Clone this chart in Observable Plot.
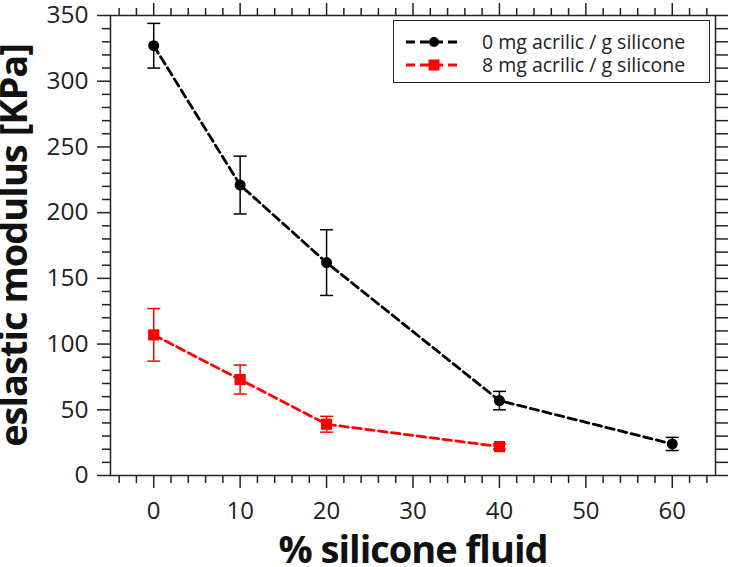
<!DOCTYPE html>
<html><head><meta charset="utf-8">
<script src="https://cdn.jsdelivr.net/npm/d3@7"></script>
<script src="https://cdn.jsdelivr.net/npm/@observablehq/plot@0.6"></script>
<style>
body{margin:0;background:#fff;font-family:"Open Sans",sans-serif;}
#wrap{position:relative;width:731px;height:567px;}
#legend{position:absolute;left:393px;top:20px;width:315px;height:61px;border:1.5px solid #222;background:#fff;box-sizing:content-box;}
.row{position:absolute;left:0;height:22px;line-height:22px;display:flex;align-items:center;font-size:19.5px;color:#222;white-space:nowrap;}
.row svg{margin-left:10px;margin-right:18px;}
</style></head>
<body><div id="wrap"><div id="legend"></div></div>
<script>
const series = ["0 mg acrilic / g silicone", "8 mg acrilic / g silicone"];
const colors = ["#000000", "#ff0000"];
const symbols = ["circle", "square"];
const x0 = [0, 10, 20, 40, 60];
const y0 = [327, 221, 162, 57, 24];
const e0 = [17, 22, 25, 7, 5];
const x8 = [0, 10, 20, 40];
const y8 = [107, 73, 39, 22];
const e8 = [20, 11, 6, 2];
const xMajor = [0, 10, 20, 30, 40, 50, 60];
const yMajor = [0, 50, 100, 150, 200, 250, 300, 350];
const xLabel = "% silicone fluid";
const yLabel = "eslastic modulus [KPa]";

const rows = [
  ...x0.map((x, i) => ({s: series[0], x, y: y0[i], e: e0[i]})),
  ...x8.map((x, i) => ({s: series[1], x, y: y8[i], e: e8[i]}))
];
const xMinor = d3.range(-4, 65, 2).filter(v => v % 10 !== 0);
const yMinor = d3.range(0, 351, 10).filter(v => v % 50 !== 0);
const cap = {draw(ctx, size) { const r = Math.sqrt(size / Math.PI); ctx.moveTo(-r, 0); ctx.lineTo(r, 0); }};
const font = "'Open Sans', sans-serif";
const ax = {label: null, strokeWidth: 1.5, stroke: "#222"};

const chart = Plot.plot({
  width: 731, height: 567,
  marginLeft: 110, marginRight: 16, marginTop: 15, marginBottom: 92,
  x: {domain: [-5, 65]},
  y: {domain: [0, 350]},
  color: {domain: series, range: colors},
  style: {fontFamily: font, fontSize: "24px", color: "#222", background: "transparent", overflow: "visible"},
  marks: [
    Plot.axisX({...ax, anchor: "bottom", ticks: xMajor, tickSize: 13, tickPadding: 13, fontSize: 24, fill: "#222"}),
    Plot.axisX({...ax, anchor: "bottom", ticks: xMinor, tickSize: 8, fill: "none"}),
    Plot.axisX({...ax, anchor: "top", ticks: xMajor, tickSize: 13, fill: "none"}),
    Plot.axisX({...ax, anchor: "top", ticks: xMinor, tickSize: 8, fill: "none"}),
    Plot.axisY({...ax, anchor: "left", ticks: yMajor, tickSize: 13, tickPadding: 9, fontSize: 24.5, fill: "#222"}),
    Plot.axisY({...ax, anchor: "left", ticks: yMinor, tickSize: 8, fill: "none"}),
    Plot.axisY({...ax, anchor: "right", ticks: yMajor, tickSize: 12, fill: "none"}),
    Plot.axisY({...ax, anchor: "right", ticks: yMinor, tickSize: 12, fill: "none"}),
    Plot.frame({stroke: "#222", strokeWidth: 1.5}),
    Plot.line(rows, {x: "x", y: "y", z: "s", stroke: "s", strokeWidth: 2.8, strokeDasharray: "8.5,4.5"}),
    Plot.ruleX(rows, {x: "x", y1: d => d.y - d.e, y2: d => d.y + d.e, stroke: "s", strokeWidth: 1.5}),
    Plot.dot(rows, {x: "x", y: d => d.y - d.e, symbol: () => cap, r: 6.5, stroke: "s", strokeWidth: 1.5}),
    Plot.dot(rows, {x: "x", y: d => d.y + d.e, symbol: () => cap, r: 6.5, stroke: "s", strokeWidth: 1.5}),
    Plot.dot(rows.filter(d => d.s === series[0]), {x: "x", y: "y", symbol: "circle", r: 5.5, fill: colors[0]}),
    Plot.dot(rows.filter(d => d.s === series[1]), {x: "x", y: "y", symbol: "square", r: 6.3, fill: colors[1]}),
    Plot.text([xLabel], {text: d => d, frameAnchor: "bottom", lineAnchor: "middle", textAnchor: "middle", dy: 75, fontSize: 38, fontWeight: "bold", fill: "#111"}),
    Plot.text([yLabel], {text: d => d, frameAnchor: "left", lineAnchor: "middle", textAnchor: "middle", dx: -96, rotate: -90, fontSize: 38, fontWeight: "bold", fill: "#111"})
  ]
});
d3.select(chart).selectAll("text")
  .filter(function () { return this.textContent === xLabel || this.textContent === yLabel; })
  .attr("letter-spacing", "-1px");
const wrap = document.getElementById("wrap");
wrap.insertBefore(chart, wrap.firstChild);
chart.style.position = "absolute";
chart.style.left = "0"; chart.style.top = "0";

const legend = document.getElementById("legend");
series.forEach((s, i) => {
  const row = document.createElement("div");
  row.className = "row";
  row.style.top = (i === 0 ? 10 : 33) + "px";
  const sw = d3.create("svg").attr("width", 60).attr("height", 20);
  sw.append("line").attr("x1", 2).attr("x2", 58).attr("y1", 10).attr("y2", 10)
    .attr("stroke", colors[i]).attr("stroke-width", 2.8).attr("stroke-dasharray", "9,5");
  if (symbols[i] === "circle") sw.append("circle").attr("cx", 30).attr("cy", 10).attr("r", 5).attr("fill", colors[i]);
  else sw.append("rect").attr("x", 24.5).attr("y", 4.5).attr("width", 11).attr("height", 11).attr("fill", colors[i]);
  row.appendChild(sw.node());
  const t = document.createElement("span");
  t.textContent = s;
  row.appendChild(t);
  legend.appendChild(row);
});
</script></body></html>
